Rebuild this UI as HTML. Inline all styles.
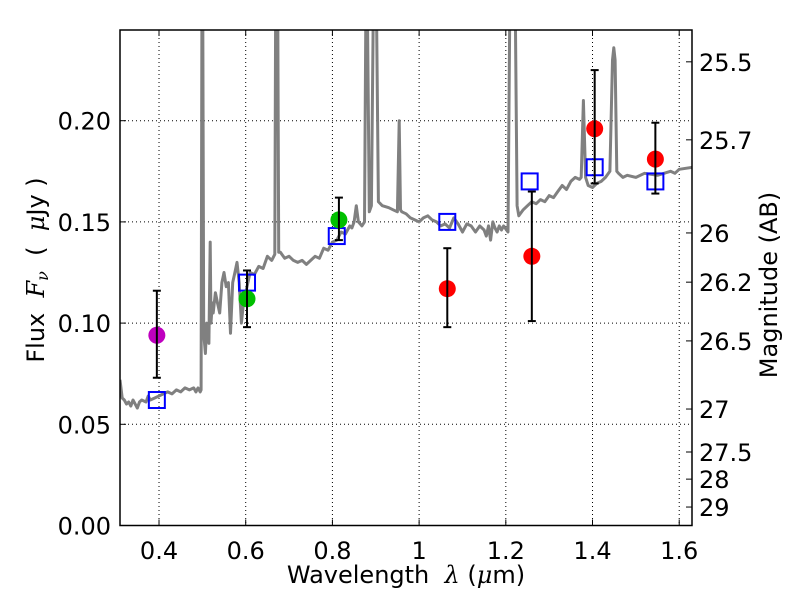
<!DOCTYPE html>
<html><head><meta charset="utf-8"><style>
html,body{margin:0;padding:0;background:#fff;}
svg{display:block;font-family:"DejaVu Sans","Liberation Sans",sans-serif;}
</style></head><body>
<svg id="chart" width="800" height="600" viewBox="0 0 800 600" xmlns="http://www.w3.org/2000/svg" style="position:absolute;left:0;top:0"></svg>
<script>
const specLam=[0.31,0.315,0.32,0.325,0.33,0.335,0.34,0.345,0.35,0.355,0.36,0.37,0.375,0.38,0.39,0.40,0.41,0.42,0.43,0.44,0.45,0.46,0.47,0.48,0.485,0.49,0.495,0.497,0.499,0.501,0.503,0.507,0.51,0.515,0.518,0.52,0.523,0.525,0.53,0.535,0.54,0.545,0.55,0.555,0.56,0.565,0.57,0.575,0.58,0.585,0.59,0.595,0.60,0.605,0.61,0.62,0.63,0.64,0.65,0.66,0.667,0.669,0.674,0.676,0.68,0.69,0.70,0.71,0.72,0.73,0.74,0.75,0.76,0.77,0.78,0.79,0.80,0.81,0.82,0.83,0.84,0.845,0.85,0.855,0.86,0.868,0.874,0.877,0.881,0.885,0.89,0.894,0.896,0.902,0.906,0.915,0.93,0.94,0.95,0.954,0.957,0.96,0.97,0.98,0.99,1.00,1.01,1.02,1.03,1.04,1.05,1.06,1.07,1.08,1.09,1.10,1.11,1.12,1.13,1.14,1.15,1.155,1.16,1.165,1.17,1.175,1.18,1.185,1.19,1.195,1.205,1.209,1.222,1.226,1.23,1.24,1.25,1.26,1.27,1.28,1.29,1.30,1.31,1.32,1.33,1.34,1.35,1.36,1.37,1.374,1.379,1.384,1.39,1.40,1.41,1.42,1.43,1.44,1.446,1.449,1.452,1.456,1.46,1.47,1.48,1.50,1.52,1.55,1.58,1.59,1.60,1.63];
const specFlux=[0.072,0.063,0.062,0.060,0.061,0.059,0.062,0.060,0.058,0.061,0.062,0.061,0.064,0.062,0.063,0.064,0.065,0.066,0.065,0.067,0.066,0.068,0.067,0.068,0.066,0.068,0.066,0.067,0.25,0.25,0.095,0.085,0.10,0.09,0.14,0.10,0.11,0.105,0.115,0.11,0.105,0.12,0.125,0.118,0.12,0.095,0.12,0.125,0.13,0.12,0.10,0.11,0.115,0.12,0.125,0.124,0.128,0.127,0.133,0.131,0.134,0.25,0.25,0.135,0.135,0.132,0.133,0.131,0.130,0.131,0.129,0.131,0.133,0.132,0.137,0.136,0.140,0.141,0.145,0.144,0.148,0.147,0.150,0.158,0.150,0.148,0.150,0.25,0.25,0.155,0.158,0.25,0.25,0.25,0.160,0.158,0.157,0.156,0.155,0.200,0.156,0.155,0.154,0.152,0.151,0.150,0.152,0.153,0.151,0.150,0.148,0.149,0.147,0.152,0.149,0.145,0.149,0.148,0.145,0.148,0.146,0.143,0.148,0.141,0.150,0.147,0.145,0.148,0.146,0.148,0.145,0.25,0.25,0.158,0.153,0.156,0.158,0.160,0.159,0.161,0.160,0.163,0.162,0.165,0.168,0.166,0.170,0.172,0.171,0.172,0.210,0.172,0.168,0.167,0.169,0.170,0.172,0.175,0.230,0.236,0.230,0.175,0.174,0.172,0.173,0.172,0.174,0.173,0.175,0.174,0.176,0.177];
const obsLam=[0.395,0.603,0.815,1.065,1.26,1.405,1.545];
const obsFlux=[0.094,0.112,0.151,0.117,0.133,0.196,0.181];
const errLow=[0.073,0.098,0.141,0.098,0.101,0.169,0.164];
const errHigh=[0.116,0.126,0.162,0.137,0.165,0.225,0.199];
const obsColor=["#bf00bf","#00bf00","#00bf00","#ff0000","#ff0000","#ff0000","#ff0000"];
const modLam=[0.395,0.603,0.81,1.065,1.255,1.405,1.545];
const modFlux=[0.062,0.120,0.143,0.150,0.170,0.177,0.170];
const xTicks=[0.4,0.6,0.8,1.0,1.2,1.4,1.6];
const xTickLabels=["0.4","0.6","0.8","1","1.2","1.4","1.6"];
const yTicks=[0,0.05,0.10,0.15,0.20];
const yTickLabels=["0.00","0.05","0.10","0.15","0.20"];
const magTicks=[25.5,25.7,26,26.2,26.5,27,27.5,28,29];
const magTickLabels=["25.5","25.7","26","26.2","26.5","27","27.5","28","29"];

const L=120,R=692,T=30,B=525.5;
const xMin=0.31,xMax=0.31+(R-L)/433.5;
const yMin=0,yMax=(B-T)/2024;
const X=v=>L+(v-xMin)/(xMax-xMin)*(R-L);
const Y=v=>B-(v-yMin)/(yMax-yMin)*(B-T);
const magToFlux=m=>Math.pow(10,(23.9-m)/2.5);
const NS="http://www.w3.org/2000/svg";
const svg=document.getElementById('chart');
function mk(tag,attrs,parent){const e=document.createElementNS(NS,tag);for(const k in attrs)e.setAttribute(k,attrs[k]);(parent||svg).appendChild(e);return e;}

const defs=mk('defs',{});
const cp=mk('clipPath',{id:'plotclip'},defs);
mk('rect',{x:L,y:T,width:R-L,height:B-T},cp);

xTicks.forEach((t,i)=>{
  const g=mk('line',{x1:X(t),x2:X(t),y1:T,y2:B,stroke:'#000','stroke-width':1,'stroke-dasharray':'1,3'});
  
  
});
yTicks.forEach((t,i)=>{
  if(t===0)return;
  const g=mk('line',{x1:L,x2:R,y1:Y(t),y2:Y(t),stroke:'#000','stroke-width':1,'stroke-dasharray':'1,3'});
  
  
});

const pts=specLam.map((l,i)=>X(l).toFixed(1)+','+Y(specFlux[i]).toFixed(1)).join(' ');
const sp=mk('polyline',{points:pts,fill:'none',stroke:'#808080','stroke-width':3,'stroke-linejoin':'round','clip-path':'url(#plotclip)'});



modLam.forEach((l,i)=>{
  const s=mk('rect',{x:X(l)-8,y:Y(modFlux[i])-8,width:16,height:16,fill:'none',stroke:'#0000ff','stroke-width':2});
  
  
});
obsLam.forEach((l,i)=>{
  const c=mk('circle',{cx:X(l),cy:Y(obsFlux[i]),r:8.5,fill:obsColor[i]});
  
  
  const x=X(l),y1=Y(errLow[i]),y2=Y(errHigh[i]);
  const g=mk('g',{stroke:'#000','stroke-width':2});
  
  
  mk('line',{x1:x,x2:x,y1:y1,y2:y2},g);
  mk('line',{x1:x-4,x2:x+4,y1:y1,y2:y1},g);
  mk('line',{x1:x-4,x2:x+4,y1:y2,y2:y2},g);
});

const fr=mk('rect',{x:L,y:T,width:R-L,height:B-T,fill:'none',stroke:'#000','stroke-width':1.5});



xTicks.forEach((t,i)=>{
  mk('line',{x1:X(t),x2:X(t),y1:B,y2:B-6,stroke:'#000'});
  mk('line',{x1:X(t),x2:X(t),y1:T,y2:T+6,stroke:'#000'});
  const tx=mk('text',{x:X(t),y:559,'text-anchor':'middle',style:'font-size:24px'});
  tx.textContent=xTickLabels[i];
  
  
});
yTicks.forEach((t,i)=>{
  mk('line',{x1:L,x2:L+6,y1:Y(t),y2:Y(t),stroke:'#000'});
  const tx=mk('text',{x:111,y:Y(t)+9,'text-anchor':'end',style:'font-size:24px'});
  tx.textContent=yTickLabels[i];
  
  
});
magTicks.forEach((m,i)=>{
  const y=Y(magToFlux(m));
  mk('line',{x1:R,x2:R-6,y1:y,y2:y,stroke:'#000'});
  const tx=mk('text',{x:699,y:y+9,'text-anchor':'start',style:'font-size:24px'});
  tx.textContent=magTickLabels[i];
  
  
});
</script>
<svg style="position:absolute;left:0;top:0" width="800" height="600">
  <text x="406" y="583" style="font-size:24px;white-space:pre" text-anchor="middle" font-family="DejaVu Sans, sans-serif">Wavelength  <tspan font-style="italic" font-family="DejaVu Serif, serif">λ</tspan> (<tspan font-style="italic" font-family="DejaVu Serif, serif">μ</tspan>m)</text>
  <text transform="translate(44,270) rotate(-90)" style="font-size:24px;white-space:pre" text-anchor="middle" font-family="DejaVu Sans, sans-serif">Flux  <tspan font-style="italic" font-family="DejaVu Serif, serif">F<tspan style="font-size:16px" dy="4">ν</tspan></tspan><tspan dy="-4">  (  </tspan><tspan font-style="italic" font-family="DejaVu Serif, serif">μ</tspan>Jy )</text>
  <text transform="translate(777,285) rotate(-90)" style="font-size:24px" text-anchor="middle" font-family="DejaVu Sans, sans-serif">Magnitude (AB)</text>
</svg>
</body></html>
